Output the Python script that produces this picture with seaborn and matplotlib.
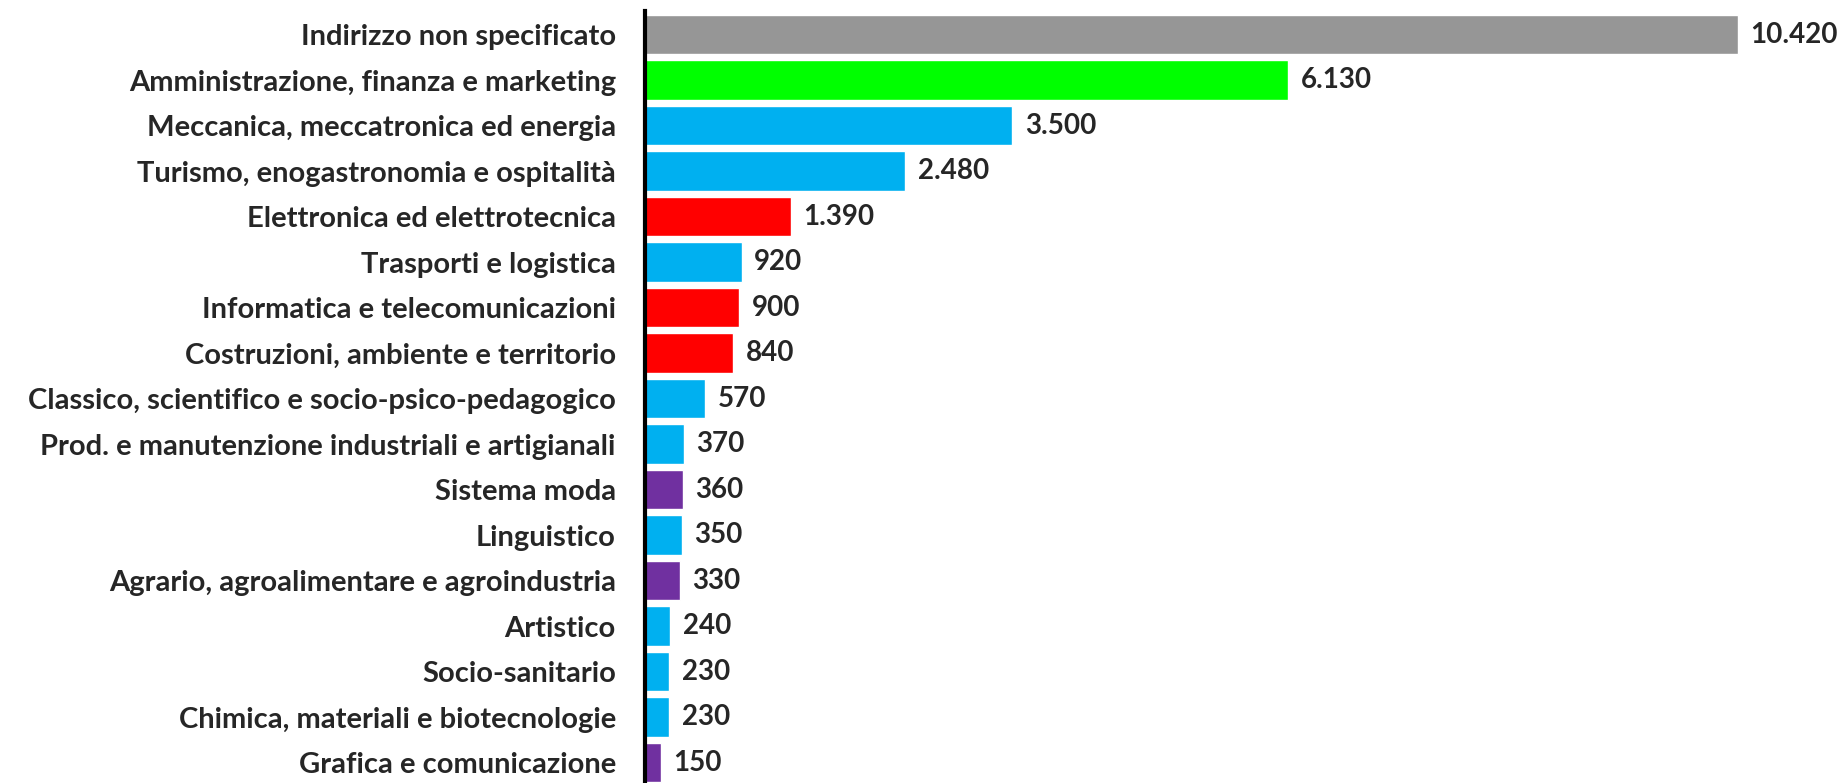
import matplotlib
matplotlib.use("Agg")
import matplotlib.pyplot as plt
import pandas as pd
import seaborn as sns

categories = [
    "Indirizzo non specificato",
    "Amministrazione, finanza e marketing",
    "Meccanica, meccatronica ed energia",
    "Turismo, enogastronomia e ospitalità",
    "Elettronica ed elettrotecnica",
    "Trasporti e logistica",
    "Informatica e telecomunicazioni",
    "Costruzioni, ambiente e territorio",
    "Classico, scientifico e socio-psico-pedagogico",
    "Prod. e manutenzione industriali e artigianali",
    "Sistema moda",
    "Linguistico",
    "Agrario, agroalimentare e agroindustria",
    "Artistico",
    "Socio-sanitario",
    "Chimica, materiali e biotecnologie",
    "Grafica e comunicazione",
]
values = [10420, 6130, 3500, 2480, 1390, 920, 900, 840, 570, 370, 360, 350, 330, 240, 230, 230, 150]
groups = ["nd", "amm", "blue", "blue", "red", "blue", "red", "red", "blue", "blue",
          "purple", "blue", "purple", "blue", "blue", "blue", "purple"]

group_colors = {"nd": "#969696", "amm": "#00FF00", "blue": "#00B0F0",
                "red": "#FF0000", "purple": "#7030A0"}

df = pd.DataFrame({"indirizzo": categories, "valore": values, "gruppo": groups})
palette = {c: group_colors[g] for c, g in zip(categories, groups)}

sns.set_style("white")
plt.rcParams["font.family"] = ["Lato", "DejaVu Sans"]

fig = plt.figure(figsize=(18.41, 7.83), dpi=100)
ax = fig.add_axes([645 / 1841, 0, 1 - 645 / 1841, (783 - 11) / 783])

sns.barplot(data=df, x="valore", y="indirizzo", hue="indirizzo", palette=palette,
            width=0.87, legend=False, ax=ax, saturation=1)

for cont in ax.containers:
    labels = [f"{b.get_width():,.0f}".replace(",", ".") for b in cont]
    ax.bar_label(cont, labels=labels, padding=9, fontsize=20, fontweight="bold")

ax.set_xlim(0, 11400)
ax.set_ylim(16.45, -0.52)
ax.set_xlabel("")
ax.set_ylabel("")
ax.set_xticks([])
ax.tick_params(axis="y", length=0, pad=21, labelsize=21)
for lab in ax.get_yticklabels():
    lab.set_fontweight("bold")

for side in ["top", "right", "bottom"]:
    ax.spines[side].set_visible(False)
ax.spines["left"].set_color("black")
ax.spines["left"].set_linewidth(3)

fig.savefig("out.png", dpi=100)
